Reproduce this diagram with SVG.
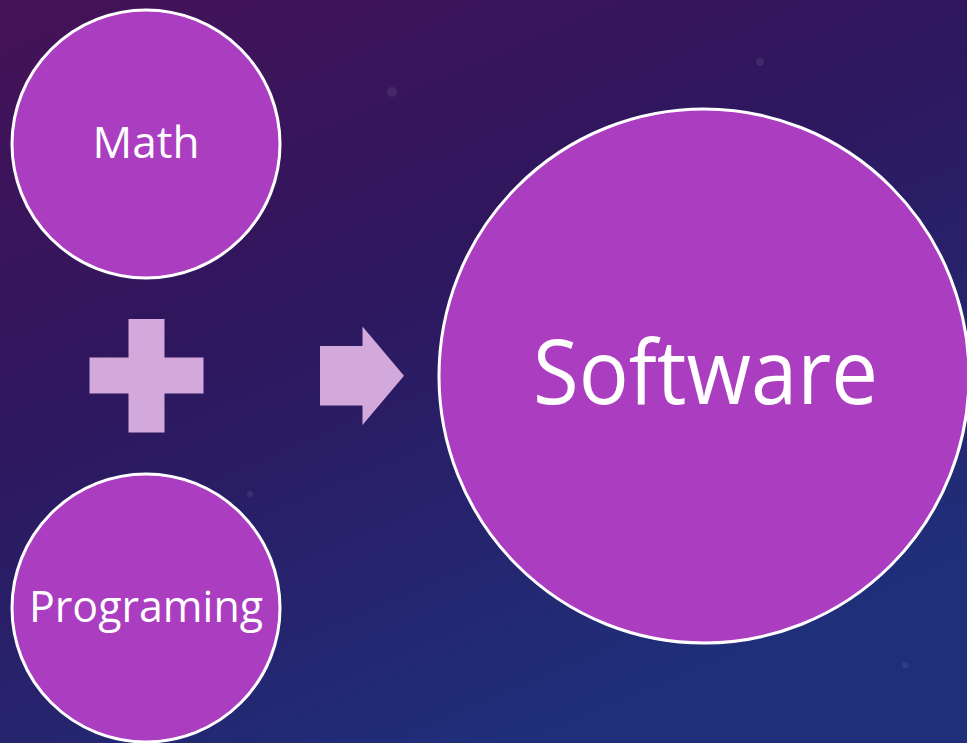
<svg xmlns="http://www.w3.org/2000/svg" width="967" height="743" viewBox="0 0 967 743">
  <defs>
    <linearGradient id="bg" x1="0" y1="0" x2="0.55" y2="1">
      <stop offset="0" stop-color="#461258"/>
      <stop offset="0.45" stop-color="#2e175e"/>
      <stop offset="1" stop-color="#1f2f7a"/>
    </linearGradient>
    <style>
      .node { fill: #ab3dc0; stroke: #ffffff; stroke-width: 3; }
      .label { fill: #ffffff; font-family: "Open Sans", "Noto Sans", "Liberation Sans", sans-serif; text-anchor: middle; }
      .sym { fill: #d2a9da; }
    </style>
  </defs>
  <rect x="0" y="0" width="967" height="743" fill="url(#bg)"/>
  <g fill="#ffffff" opacity="0.08">
    <circle cx="760" cy="62" r="4"/>
    <circle cx="392" cy="92" r="5"/>
    <circle cx="250" cy="494" r="3"/>
    <circle cx="905" cy="665" r="3"/>
  </g>

  <g id="math">
    <circle class="node" cx="146" cy="144" r="134"/>
    <text class="label" x="146" y="158" font-size="44" textLength="107" lengthAdjust="spacingAndGlyphs">Math</text>
  </g>

  <g id="programing">
    <circle class="node" cx="146" cy="608" r="134"/>
    <text class="label" x="146" y="622" font-size="44" textLength="234" lengthAdjust="spacingAndGlyphs">Programing</text>
  </g>

  <g id="software">
    <ellipse class="node" cx="704" cy="376" rx="265" ry="267"/>
    <text class="label" x="705.5" y="404" font-size="89" textLength="345" lengthAdjust="spacingAndGlyphs">Software</text>
  </g>

  <g id="connectors">
    <path id="plus" class="sym" d="M128.5,319 H164.5 V357.5 H203.5 V393.5 H164.5 V432.5 H128.5 V393.5 H89.5 V357.5 H128.5 Z"/>
    <path id="arrow" class="sym" d="M320,346 H362.5 V326.5 L404,375.7 L362.5,425 V405.5 H320 Z"/>
  </g>
</svg>
